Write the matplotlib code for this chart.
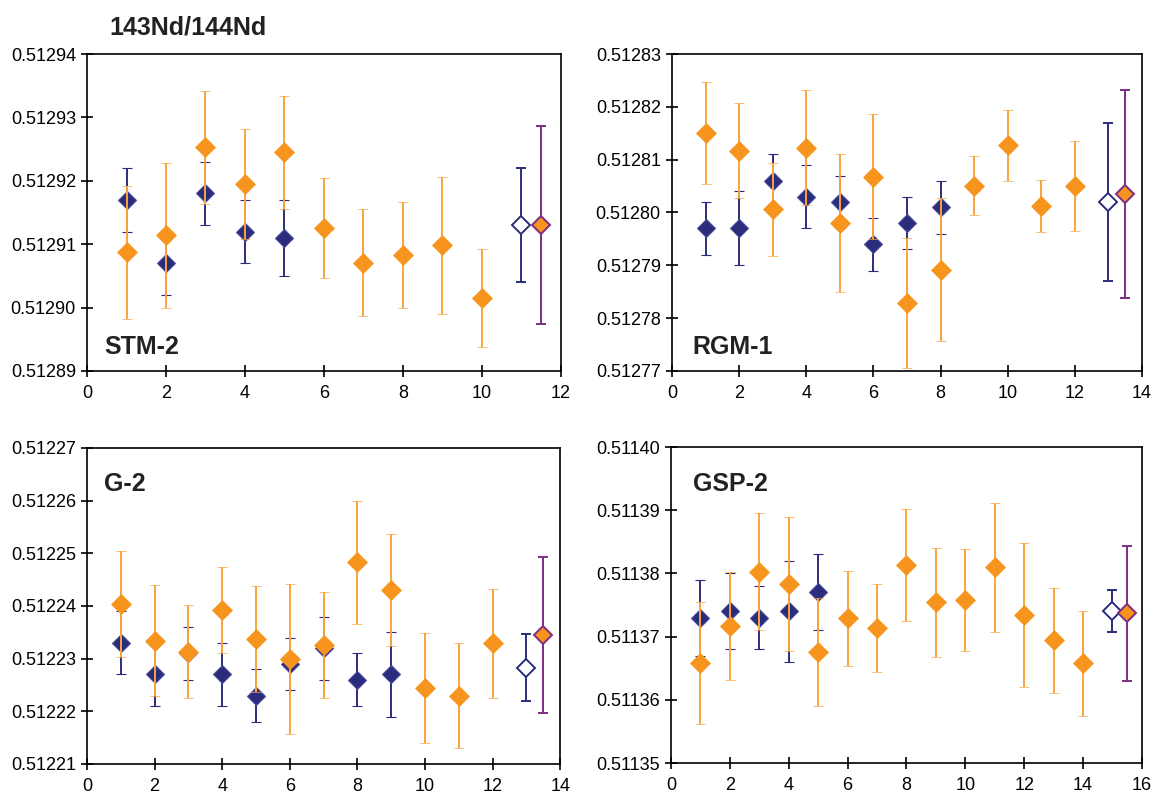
import numpy as np
import matplotlib
matplotlib.use("Agg")
import matplotlib.pyplot as plt
from matplotlib.ticker import MultipleLocator, FormatStrFormatter

plt.rcParams['font.family'] = ['Liberation Sans', 'DejaVu Sans']

ORANGE = '#f7941d'
ORANGE_BAR = '#f9a43c'
NAVY = '#2b2d7c'
PURPLE = '#7d2d84'

# STM-2
stm_navy_x = [1, 2, 3, 4, 5]
stm_navy_y = [0.512917, 0.512907, 0.512918, 0.512912, 0.512911]
stm_navy_err = [0.5e-5, 0.5e-5, 0.5e-5, 0.5e-5, 0.6e-5]
stm_orange_x = [1, 2, 3, 4, 5, 6, 7, 8, 9, 10]
stm_orange_y = [0.5129087, 0.5129114, 0.5129253, 0.5129195, 0.5129245,
                0.5129125, 0.5129071, 0.5129083, 0.5129098, 0.5129015]
stm_orange_err = [1.05e-5, 1.14e-5, 0.89e-5, 0.87e-5, 0.89e-5,
                  0.79e-5, 0.84e-5, 0.84e-5, 1.08e-5, 0.77e-5]
stm_ref = (11, 0.512913, 0.9e-5)
stm_mean = (11.5, 0.512913, 1.56e-5)

# RGM-1
rgm_navy_x = [1, 2, 3, 4, 5, 6, 7, 8]
rgm_navy_y = [0.512797, 0.512797, 0.512806, 0.512803, 0.512802, 0.512794, 0.512798, 0.512801]
rgm_navy_err = [0.5e-5, 0.7e-5, 0.5e-5, 0.6e-5, 0.5e-5, 0.5e-5, 0.5e-5, 0.5e-5]
rgm_orange_x = [1, 2, 3, 4, 5, 6, 7, 8, 9, 10, 11, 12]
rgm_orange_y = [0.512815, 0.5128117, 0.5128006, 0.5128123, 0.512798, 0.5128068,
                0.5127828, 0.5127892, 0.5128051, 0.5128127, 0.5128012, 0.512805]
rgm_orange_err = [0.97e-5, 0.9e-5, 0.88e-5, 1.09e-5, 1.3e-5, 1.19e-5,
                  1.23e-5, 1.36e-5, 0.55e-5, 0.67e-5, 0.49e-5, 0.85e-5]
rgm_ref = (13, 0.512802, 1.5e-5)
rgm_mean = (13.5, 0.5128035, 1.96e-5)

# G-2
g2_navy_x = [1, 2, 3, 4, 5, 6, 7, 8, 9]
g2_navy_y = [0.512233, 0.512227, 0.512231, 0.512227, 0.512223, 0.512229, 0.512232, 0.512226, 0.512227]
g2_navy_err = [0.6e-5, 0.6e-5, 0.5e-5, 0.6e-5, 0.5e-5, 0.5e-5, 0.6e-5, 0.5e-5, 0.8e-5]
g2_orange_x = [1, 2, 3, 4, 5, 6, 7, 8, 9, 10, 11, 12]
g2_orange_y = [0.5122404, 0.5122334, 0.5122313, 0.5122392, 0.5122337, 0.5122299,
               0.5122326, 0.5122483, 0.512243, 0.5122244, 0.512223, 0.5122329]
g2_orange_err = [1.0e-5, 1.05e-5, 0.88e-5, 0.82e-5, 1.0e-5, 1.42e-5,
                 1.01e-5, 1.17e-5, 1.06e-5, 1.05e-5, 1.0e-5, 1.04e-5]
g2_ref = (13, 0.5122283, 0.63e-5)
g2_mean = (13.5, 0.5122345, 1.48e-5)

# GSP-2
gsp_navy_x = [1, 2, 3, 4, 5]
gsp_navy_y = [0.511373, 0.511374, 0.511373, 0.511374, 0.511377]
gsp_navy_err = [0.6e-5, 0.6e-5, 0.5e-5, 0.8e-5, 0.6e-5]
gsp_orange_x = [1, 2, 3, 4, 5, 6, 7, 8, 9, 10, 11, 12, 13, 14]
gsp_orange_y = [0.5113658, 0.5113717, 0.5113803, 0.5113783, 0.5113676, 0.5113729, 0.5113714,
                0.5113813, 0.5113754, 0.5113758, 0.511381, 0.5113734, 0.5113694, 0.5113658]
gsp_orange_err = [0.96e-5, 0.86e-5, 0.92e-5, 1.06e-5, 0.85e-5, 0.75e-5, 0.7e-5,
                  0.89e-5, 0.86e-5, 0.8e-5, 1.02e-5, 1.14e-5, 0.83e-5, 0.83e-5]
gsp_ref = (15, 0.5113741, 0.33e-5)
gsp_mean = (15.5, 0.5113737, 1.07e-5)

panels = [
    dict(name='STM-2', pos=[0.0754, 0.5322, 0.4107, 0.3997], xmax=12, ylim=(0.51289, 0.51294),
         navy=(stm_navy_x, stm_navy_y, stm_navy_err), orange=(stm_orange_x, stm_orange_y, stm_orange_err),
         ref=stm_ref, mean=stm_mean, lab=(0.036, 0.076)),
    dict(name='RGM-1', pos=[0.5823, 0.5322, 0.4073, 0.3997], xmax=14, ylim=(0.51277, 0.51283),
         navy=(rgm_navy_x, rgm_navy_y, rgm_navy_err), orange=(rgm_orange_x, rgm_orange_y, rgm_orange_err),
         ref=rgm_ref, mean=rgm_mean, lab=(0.044, 0.076)),
    dict(name='G-2', pos=[0.0754, 0.0366, 0.4100, 0.3985], xmax=14, ylim=(0.51221, 0.51227),
         navy=(g2_navy_x, g2_navy_y, g2_navy_err), orange=(g2_orange_x, g2_orange_y, g2_orange_err),
         ref=g2_ref, mean=g2_mean, lab=(0.036, 0.886)),
    dict(name='GSP-2', pos=[0.5815, 0.0378, 0.4080, 0.3985], xmax=16, ylim=(0.51135, 0.51140),
         navy=(gsp_navy_x, gsp_navy_y, gsp_navy_err), orange=(gsp_orange_x, gsp_orange_y, gsp_orange_err),
         ref=gsp_ref, mean=gsp_mean, lab=(0.047, 0.883)),
]

fig = plt.figure(figsize=(11.54, 7.93), dpi=100)

for p in panels:
    ax = fig.add_axes(p['pos'])
    nx, ny, ne = p['navy']
    ax.errorbar(nx, ny, yerr=ne, fmt='D', color=NAVY, ecolor=NAVY, ms=9.5,
                mec='#4a4c9a', mew=0.8, elinewidth=1.4, capsize=3.5, capthick=1.4, zorder=3)
    ox, oy, oe = p['orange']
    ax.errorbar(ox, oy, yerr=oe, fmt='D', color=ORANGE, ecolor=ORANGE_BAR, ms=10.5,
                mec=ORANGE, mew=0.5, elinewidth=1.4, capsize=3.5, capthick=1.2, zorder=4)
    rx, ry, re = p['ref']
    ax.errorbar([rx], [ry], yerr=[re], fmt='D', mfc='white', mec=NAVY, ecolor=NAVY, ms=9.5,
                mew=1.4, elinewidth=1.4, capsize=3.5, capthick=1.4, zorder=5)
    mx, my, me = p['mean']
    ax.errorbar([mx], [my], yerr=[me], fmt='D', mfc=ORANGE, mec=PURPLE, ecolor=PURPLE, ms=9.5,
                mew=1.4, elinewidth=1.4, capsize=3.5, capthick=1.4, zorder=5)

    ax.set_xlim(0, p['xmax'])
    ax.set_ylim(*p['ylim'])
    ax.xaxis.set_major_locator(MultipleLocator(2))
    ax.yaxis.set_major_locator(MultipleLocator(0.00001))
    ax.yaxis.set_major_formatter(FormatStrFormatter('%.5f'))
    ax.tick_params(direction='inout', length=8, width=1.2, labelsize=13, pad=4,
                   top=False, right=False)
    ax.tick_params(axis='x', pad=6)
    for s in ax.spines.values():
        s.set_linewidth(1.2)
    ax.text(p['lab'][0], p['lab'][1], p['name'], transform=ax.transAxes,
            fontsize=18, fontweight='bold', color='#222222', va='center', ha='left')

fig.text(0.095, 0.965, '143Nd/144Nd', fontsize=18, fontweight='bold', color='#222222',
         va='center', ha='left')

fig.savefig('out.png', dpi=100)
